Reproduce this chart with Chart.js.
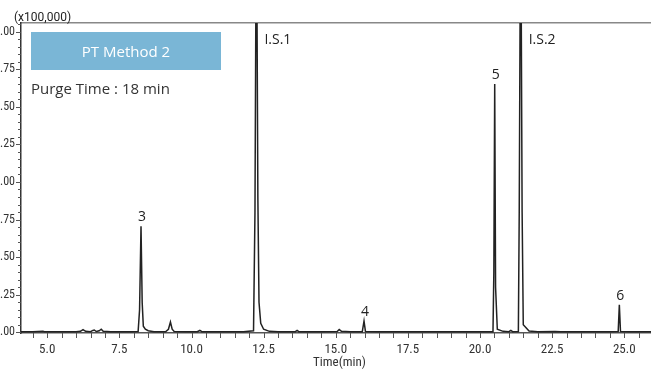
<!DOCTYPE html>
<html>
<head>
<meta charset="utf-8">
<script src="https://cdn.jsdelivr.net/npm/chart.js@4.4.0/dist/chart.umd.min.js"></script>
<style>
    html, body { margin: 0; padding: 0; background: #fff; overflow: hidden; width: 651px; height: 369px; }
    #wrap { position: absolute; left: -12px; top: 0; width: 680px; height: 369px; }
    #unit { position: absolute; left: 14px; top: 10px; font: 12px 'Liberation Sans Narrow', Roboto, sans-serif; color: #222; }
    #badge { position: absolute; left: 31px; top: 32px; width: 190px; height: 38px; background: #7ab6d6; color: #fff;
             font: 15px 'Open Sans', sans-serif; text-align: center; line-height: 38px; }
    #purge { position: absolute; left: 31px; top: 78px; font: 15px 'Open Sans', sans-serif; color: #333; }
</style>
</head>
<body>
<div id="wrap"><canvas id="chromChart"></canvas></div>
<div id="unit">(x100,000)</div>
<div id="badge">PT Method 2</div>
<div id="purge">Purge Time : 18 min</div>
<script>
// retention time (min) and detector response (x100,000)
var times = [
    4.09, 4.5, 4.85, 4.9, 5.5, 6.0, 6.15, 6.24, 6.33, 6.5, 6.58, 6.63, 6.7, 6.8, 6.87, 6.94,
    7.2, 7.5, 7.9, 8.15, 8.2, 8.25, 8.29, 8.33, 8.4, 8.5, 8.7, 9.1, 9.2, 9.27, 9.33, 9.4,
    9.8, 10.2, 10.29, 10.36, 11.0, 11.8, 12.15, 12.2, 12.25, 12.3, 12.34, 12.4, 12.5, 12.7,
    13.0, 13.6, 13.66, 13.72, 14.5, 15.05, 15.12, 15.2, 15.5, 15.92, 15.98, 16.03, 16.5,
    17.5, 18.5, 19.5, 20.45, 20.48, 20.51, 20.54, 20.6, 20.8, 21.0, 21.07, 21.13, 21.33,
    21.36, 21.41, 21.46, 21.5, 21.7, 22.0, 22.6, 22.8, 24.5, 24.79, 24.83, 24.87, 25.2, 26.17
];
var intensity = [
    0.004, 0.003, 0.006, 0.003, 0.004, 0.003, 0.006, 0.018, 0.006, 0.004, 0.012, 0.015, 0.005, 0.010, 0.020, 0.006,
    0.003, 0.004, 0.003, 0.005, 0.15, 0.705, 0.20, 0.04, 0.02, 0.01, 0.004, 0.003, 0.02, 0.068, 0.02, 0.005,
    0.003, 0.004, 0.012, 0.004, 0.003, 0.004, 0.01, 0.8, 3.0, 0.9, 0.2, 0.06, 0.02, 0.006,
    0.003, 0.004, 0.012, 0.004, 0.003, 0.005, 0.018, 0.006, 0.003, 0.004, 0.075, 0.005, 0.003,
    0.004, 0.003, 0.004, 0.004, 0.4, 1.652, 0.3, 0.02, 0.006, 0.004, 0.012, 0.004, 0.005,
    0.8, 3.0, 0.8, 0.05, 0.008, 0.004, 0.005, 0.003, 0.003, 0.005, 0.182, 0.005, 0.003, 0.004
];

var peakNames = ['3', 'I.S.1', '4', '5', 'I.S.2', '6'];
var peakTimes = [8.25, 12.25, 15.98, 20.51, 21.41, 24.83];

var xRange = [4.09, 26.17];
var yRange = [-0.005, 2.058];
var xTickStep = 0.5, xLabelStep = 2.5;
var yTickStep = 0.05, yLabelStep = 0.25;

function onStep(v, step) {
    return Math.abs(v / step - Math.round(v / step)) < 1e-6;
}

var narrowFont = "'Liberation Sans Narrow', 'Roboto Condensed', Roboto, sans-serif";

var tickMarks = {
    id: 'tickMarks',
    afterDraw: function(chart) {
        var ctx = chart.ctx, xs = chart.scales.x, ys = chart.scales.y, area = chart.chartArea;
        ctx.save();
        ctx.strokeStyle = '#555';
        ctx.lineWidth = 1;
        xs.ticks.forEach(function(t) {
            var px = Math.round(xs.getPixelForValue(t.value)) + 0.5;
            ctx.beginPath();
            ctx.moveTo(px, area.bottom);
            ctx.lineTo(px, area.bottom + 5);
            ctx.stroke();
        });
        ys.ticks.forEach(function(t) {
            var py = Math.round(ys.getPixelForValue(t.value)) + 0.5;
            var len = t.label ? 5 : 3;
            ctx.beginPath();
            ctx.moveTo(area.left, py);
            ctx.lineTo(area.left - len, py);
            ctx.stroke();
        });
        ctx.restore();
    }
};

var peakLabels = {
    id: 'peakLabels',
    afterDatasetsDraw: function(chart) {
        var ctx = chart.ctx, xs = chart.scales.x, ys = chart.scales.y, area = chart.chartArea;
        ctx.save();
        ctx.font = "14px 'Open Sans', sans-serif";
        ctx.fillStyle = '#222';
        peakNames.forEach(function(name, i) {
            var idx = times.indexOf(peakTimes[i]);
            var h = intensity[idx];
            var px = xs.getPixelForValue(peakTimes[i]);
            if (h > yRange[1]) {
                ctx.textAlign = 'left';
                ctx.textBaseline = 'middle';
                ctx.fillText(name, px + 8, area.top + 17);
            } else {
                ctx.textAlign = 'center';
                ctx.textBaseline = 'alphabetic';
                ctx.fillText(name, px + 1, ys.getPixelForValue(h) - 5);
            }
        });
        ctx.restore();
    }
};

new Chart(document.getElementById('chromChart'), {
    type: 'line',
    data: {
        datasets: [{
            data: times.map(function(t, i) { return { x: t, y: intensity[i] }; }),
            borderColor: '#222',
            borderWidth: 1.5,
            pointRadius: 0,
            tension: 0,
            fill: false
        }]
    },
    options: {
        responsive: true,
        maintainAspectRatio: false,
        animation: false,
        devicePixelRatio: 1,
        layout: { padding: { top: 0, right: 10, bottom: 0, left: 0 } },
        plugins: { legend: { display: false }, tooltip: { enabled: false } },
        scales: {
            x: {
                type: 'linear',
                position: 'bottom',
                min: xRange[0],
                max: xRange[1],
                afterFit: function(s) { s.height = 36; },
                grid: { drawOnChartArea: false, drawTicks: false },
                border: { color: '#555', width: 1.5 },
                ticks: {
                    stepSize: xTickStep,
                    includeBounds: false,
                    autoSkip: false,
                    maxRotation: 0,
                    padding: 9,
                    color: '#333',
                    font: { family: narrowFont, size: 13 },
                    callback: function(v) { return onStep(v, xLabelStep) ? v.toFixed(1) : ''; }
                },
                title: {
                    display: true,
                    text: 'Time(min)',
                    color: '#333',
                    padding: 0,
                    font: { family: narrowFont, size: 13, lineHeight: 1 }
                }
            },
            xTop: {
                type: 'linear',
                position: 'top',
                min: xRange[0],
                max: xRange[1],
                afterFit: function(s) { s.height = 23; },
                grid: { drawOnChartArea: false, drawTicks: false },
                border: { color: '#888', width: 1.5 },
                ticks: { display: false }
            },
            y: {
                min: yRange[0],
                max: yRange[1],
                afterFit: function(s) { s.width = 33; },
                grid: { drawOnChartArea: false, drawTicks: false },
                border: { color: '#333', width: 1.5 },
                ticks: {
                    stepSize: yTickStep,
                    includeBounds: false,
                    autoSkip: false,
                    padding: 6,
                    color: '#333',
                    font: { family: narrowFont, size: 12 },
                    callback: function(v) { return onStep(v, yLabelStep) ? v.toFixed(2) : ''; }
                }
            }
        }
    },
    plugins: [tickMarks, peakLabels]
});
</script>
</body>
</html>
